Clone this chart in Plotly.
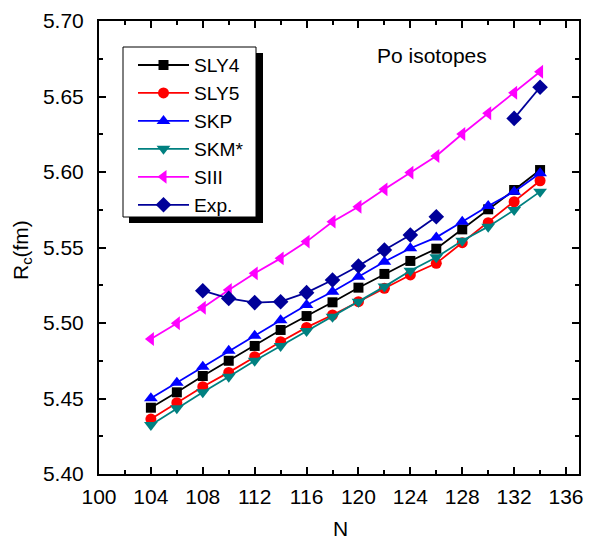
import plotly.graph_objects as go

N = [104, 106, 108, 110, 112, 114, 116, 118, 120, 122, 124, 126, 128, 130, 132, 134]
sly4 = [5.4439, 5.4541, 5.4649, 5.4750, 5.4848, 5.4954, 5.5046, 5.5137, 5.5234, 5.5325,
        5.5411, 5.5492, 5.5620, 5.5753, 5.5881, 5.6013]
sly5 = [5.4364, 5.4472, 5.4578, 5.4673, 5.4777, 5.4876, 5.4971, 5.5053, 5.5141, 5.5230,
        5.5318, 5.5395, 5.5532, 5.5664, 5.5803, 5.5942]
skp = [5.4501, 5.4605, 5.4711, 5.4817, 5.4916, 5.5018, 5.5119, 5.5207, 5.5307, 5.5406,
       5.5495, 5.5567, 5.5671, 5.5775, 5.5870, 5.5991]
skm = [5.4325, 5.4435, 5.4541, 5.4644, 5.4750, 5.4848, 5.4947, 5.5042, 5.5141, 5.5241,
       5.5346, 5.5435, 5.5545, 5.5638, 5.5748, 5.5870]
siii = [5.4894, 5.4998, 5.5101, 5.5219, 5.5329, 5.5428, 5.5539, 5.5671, 5.5770, 5.5885,
        5.5996, 5.6106, 5.6252, 5.6389, 5.6525, 5.6664]
exp = [None, None, 5.5214, 5.5163, 5.5135, 5.5141, 5.5201, 5.5285, 5.5377, 5.5483,
       5.5583, 5.5704, None, None, 5.6355, 5.6561]

series = [
    ("SLY4", sly4, "#000000", "square", 10),
    ("SLY5", sly5, "#FF0000", "circle", 11),
    ("SKP", skp, "#0000FF", "triangle-up", 12),
    ("SKM*", skm, "#008080", "triangle-down", 12),
    ("SIII", siii, "#FF00FF", "triangle-left", 12),
    ("Exp.", exp, "#000099", "diamond", 12),
]

fig = go.Figure()
for name, vals, col, sym, sz in series:
    fig.add_trace(go.Scatter(
        x=N, y=vals, name=name, mode="lines+markers",
        line=dict(color=col, width=1.8),
        marker=dict(symbol=sym, size=sz, color=col, line=dict(width=0)),
        connectgaps=False,
    ))

FONT = "Arial, Liberation Sans, sans-serif"
axis_common = dict(
    showline=True, linecolor="black", linewidth=2, mirror="allticks",
    ticks="inside", ticklen=7, tickwidth=1.5, tickcolor="black",
    showgrid=False, zeroline=False, automargin=False,
    tickfont=dict(family=FONT, size=21, color="black"),
)
fig.update_xaxes(range=[100, 137], dtick=4, tick0=100, ticklabelstandoff=3,
                 minor=dict(dtick=2, ticks="inside", ticklen=4, tickcolor="black"),
                 **axis_common)
fig.update_yaxes(range=[5.40, 5.70], dtick=0.05, tick0=5.40, tickformat=".2f", ticklabelstandoff=9,
                 minor=dict(dtick=0.025, ticks="inside", ticklen=4, tickcolor="black"),
                 **axis_common)

W, H = 589, 540
L, R, T, B = 99, 10, 21, 66
pw, ph = W - L - R, H - T - B

def px(x):
    return (x - L) / pw

def py(y):
    return (H - B - y) / ph

fig.add_annotation(x=px(340), y=py(528), xref="paper", yref="paper",
                   xanchor="center", yanchor="middle", text="N",
                   showarrow=False, font=dict(family=FONT, size=21, color="black"))
fig.add_annotation(x=px(22), y=py(250), xref="paper", yref="paper",
                   xanchor="center", yanchor="middle", text="R<sub>c</sub>(fm)", textangle=-90,
                   showarrow=False, font=dict(family=FONT, size=21, color="black"))
fig.add_annotation(x=px(432), y=py(55), xref="paper", yref="paper",
                   xanchor="center", yanchor="middle", text="Po isotopes",
                   showarrow=False, font=dict(family=FONT, size=21, color="black"))

# legend frame with drop shadow
fig.add_shape(type="rect", xref="paper", yref="paper",
              x0=px(129), x1=px(263), y0=py(223), y1=py(53),
              fillcolor="black", line=dict(width=0), layer="above")
fig.add_shape(type="rect", xref="paper", yref="paper",
              x0=px(123), x1=px(256), y0=py(217), y1=py(47),
              fillcolor="white", line=dict(color="black", width=1), layer="above")

fig.update_layout(
    width=W, height=H,
    margin=dict(l=L, r=R, t=T, b=B),
    paper_bgcolor="white", plot_bgcolor="white",
    showlegend=True,
    legend=dict(x=px(133), y=py(46), xanchor="left", yanchor="top",
                bgcolor="rgba(0,0,0,0)", borderwidth=0,
                font=dict(family=FONT, size=19.2, color="black"),
                itemwidth=51, tracegroupgap=0),
    font=dict(family=FONT, color="black"),
)

fig.write_html("out.html")
